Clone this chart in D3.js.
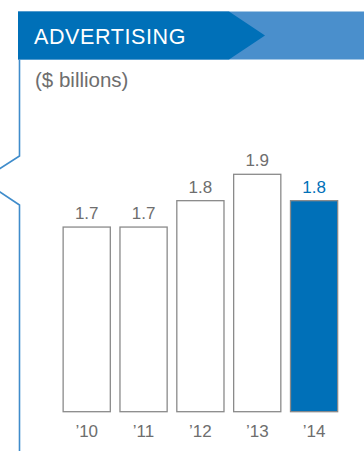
<!DOCTYPE html>
<html>
<head>
<meta charset="utf-8">
<script src="https://cdn.jsdelivr.net/npm/d3@7"></script>
<style>
  html, body { margin: 0; padding: 0; background: #fff; }
  svg { display: block; font-family: "Liberation Sans", Arial, Helvetica, sans-serif; }
</style>
</head>
<body>
<svg id="chart" width="364" height="451"></svg>
<script>
// Advertising revenue by fiscal year, $ billions
const years = ["’10", "’11", "’12", "’13", "’14"];
const values = [1.7, 1.7, 1.8, 1.9, 1.8];
const valueLabels = ["1.7", "1.7", "1.8", "1.9", "1.8"];
const title = "ADVERTISING";
const unitLabel = "($ billions)";

const W = 364, H = 451;
const darkBlue = "#0070b8";
const lightBlue = "#4a8fcc";
const gray = "#6e6e6e";
const barStroke = "#8a8a8a";

const svg = d3.select("#chart");

// Header band: dark tab with arrow tip over a lighter strip
const bandTop = 11.5, bandBottom = 59.5;
svg.append("rect")
  .attr("x", 18).attr("y", bandTop)
  .attr("width", W - 18).attr("height", bandBottom - bandTop)
  .attr("fill", lightBlue);
svg.append("path")
  .attr("d", d3.line()([[18, bandTop], [229, bandTop], [265, (bandTop + bandBottom) / 2],
    [229, bandBottom], [18, bandBottom]]) + "Z")
  .attr("fill", darkBlue);
svg.append("text")
  .attr("x", 34).attr("y", 44)
  .attr("fill", "#fff")
  .attr("font-size", 21.5)
  .attr("letter-spacing", 0.6)
  .text(title);

// Left rule with a notch pointing left
svg.append("path")
  .attr("d", d3.line()([[19.5, bandBottom], [19.5, 156], [-18, 180], [19.5, 205], [19.5, H]]))
  .attr("fill", "none")
  .attr("stroke", "#3f8ccb")
  .attr("stroke-width", 1.6);

svg.append("text")
  .attr("x", 35).attr("y", 87)
  .attr("fill", gray)
  .attr("font-size", 20.5)
  .text(unitLabel);

// Scales
const x = d3.scaleBand()
  .domain(years)
  .range([58.3, 342.5])
  .paddingInner(0.17)
  .paddingOuter(0.085);

const y = d3.scaleLinear()
  .domain([1.0, 1.9])
  .range([411.7, 174.3]);

const bars = svg.append("g");
bars.selectAll("rect")
  .data(values)
  .join("rect")
  .attr("x", (d, i) => x(years[i]))
  .attr("y", d => y(d))
  .attr("width", x.bandwidth())
  .attr("height", d => y.range()[0] - y(d))
  .attr("fill", (d, i) => i === values.length - 1 ? darkBlue : "#fff")
  .attr("stroke", barStroke)
  .attr("stroke-width", 1.3);

bars.selectAll("text.value")
  .data(values)
  .join("text")
  .attr("class", "value")
  .attr("x", (d, i) => x(years[i]) + x.bandwidth() / 2)
  .attr("y", d => y(d) - 8)
  .attr("text-anchor", "middle")
  .attr("font-size", 17)
  .attr("fill", (d, i) => i === values.length - 1 ? darkBlue : gray)
  .text((d, i) => valueLabels[i]);

// Category axis (labels only)
const xAxis = svg.append("g")
  .attr("transform", `translate(0,${y.range()[0]})`)
  .call(d3.axisBottom(x).tickSize(0).tickPadding(10));
xAxis.select(".domain").remove();
xAxis.selectAll("text")
  .attr("font-family", "Liberation Sans, Arial, Helvetica, sans-serif")
  .attr("font-size", 17)
  .attr("fill", gray)
  .attr("dy", "0.71em")
  .attr("y", 13.5);
</script>
</body>
</html>
